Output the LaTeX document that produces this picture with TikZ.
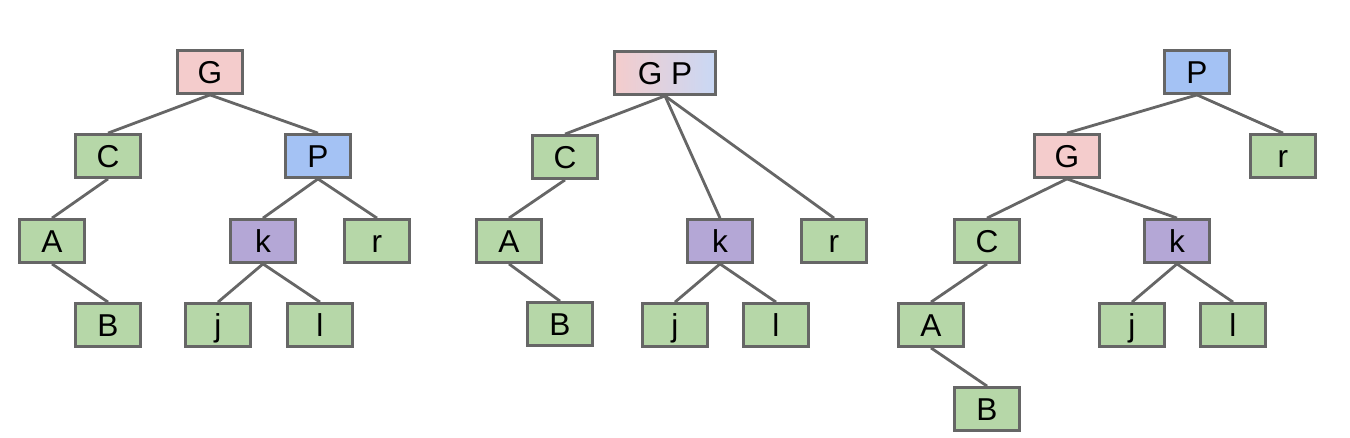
\documentclass[tikz,border=0pt]{standalone}
\usepackage{fontspec}
\setmainfont{Liberation Sans}
\usepackage{xcolor}
\usetikzlibrary{positioning}
\definecolor{rosa}{HTML}{F4CCCC}
\definecolor{azul}{HTML}{A4C2F4}
\definecolor{azulclaro}{HTML}{C9D8F5}
\definecolor{verde}{HTML}{B6D7A8}
\definecolor{lila}{HTML}{B4A7D6}
\definecolor{gris}{HTML}{666666}

\begin{document}
\begin{tikzpicture}[x=0.02cm, y=-0.02cm,
  font=\fontsize{18}{20}\selectfont,
  caja/.style={draw=gris, line width=1.6pt, minimum width=1.3cm, minimum height=0.86cm,
               inner sep=0pt, text height=12.8pt, text depth=0pt},
  hoja/.style={caja, fill=verde},
  rama/.style={draw=gris, line width=1.6pt}
]
  \useasboundingbox (0,0) rectangle (1350,437);

  % arbol 1
  \node[caja, fill=rosa] (g1) at (210,72) {G};
  \node[hoja] (c1) at (108,156) {C};
  \node[caja, fill=azul] (p1) at (318,156) {P};
  \node[hoja] (a1) at (52,241) {A};
  \node[caja, fill=lila] (k1) at (263,241) {k};
  \node[hoja] (r1) at (377,241) {r};
  \node[hoja] (b1) at (108,325) {B};
  \node[hoja] (j1) at (218,325) {j};
  \node[hoja] (l1) at (320,325) {l};
  \draw[rama] (g1.south) -- (c1.north);
  \draw[rama] (g1.south) -- (p1.north);
  \draw[rama] (c1.south) -- (a1.north);
  \draw[rama] (a1.south) -- (b1.north);
  \draw[rama] (p1.south) -- (k1.north);
  \draw[rama] (p1.south) -- (r1.north);
  \draw[rama] (k1.south) -- (j1.north);
  \draw[rama] (k1.south) -- (l1.north);

  % arbol 2
  \node[caja, left color=rosa, right color=azulclaro, minimum width=2.02cm] (gp2) at (665,73) {G P};
  \node[hoja] (c2) at (565,157) {C};
  \node[hoja] (a2) at (509,241) {A};
  \node[hoja] (b2) at (560,324) {B};
  \node[caja, fill=lila] (k2) at (720,241) {k};
  \node[hoja] (r2) at (834,241) {r};
  \node[hoja] (j2) at (675,325) {j};
  \node[hoja] (l2) at (776,325) {l};
  \draw[rama] (gp2.south) -- (c2.north);
  \draw[rama] (gp2.south) -- (k2.north);
  \draw[rama] (gp2.south) -- (r2.north);
  \draw[rama] (c2.south) -- (a2.north);
  \draw[rama] (a2.south) -- (b2.north);
  \draw[rama] (k2.south) -- (j2.north);
  \draw[rama] (k2.south) -- (l2.north);

  % arbol 3
  \node[caja, fill=azul] (p3) at (1197,72) {P};
  \node[caja, fill=rosa] (g3) at (1067,156) {G};
  \node[hoja] (r3) at (1283,156) {r};
  \node[hoja] (c3) at (987,241) {C};
  \node[caja, fill=lila] (k3) at (1177,241) {k};
  \node[hoja] (a3) at (931,325) {A};
  \node[hoja] (j3) at (1132,325) {j};
  \node[hoja] (l3) at (1233,325) {l};
  \node[hoja] (b3) at (987,409) {B};
  \draw[rama] (p3.south) -- (g3.north);
  \draw[rama] (p3.south) -- (r3.north);
  \draw[rama] (g3.south) -- (c3.north);
  \draw[rama] (g3.south) -- (k3.north);
  \draw[rama] (c3.south) -- (a3.north);
  \draw[rama] (a3.south) -- (b3.north);
  \draw[rama] (k3.south) -- (j3.north);
  \draw[rama] (k3.south) -- (l3.north);
\end{tikzpicture}
\end{document}
